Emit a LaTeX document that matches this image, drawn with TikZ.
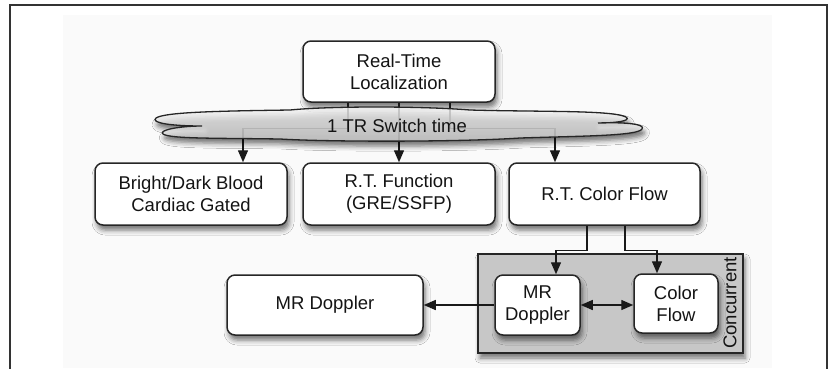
\documentclass[tikz,border=0pt]{standalone}
\usepackage{fontspec}
\setmainfont{Liberation Sans}
\usetikzlibrary{arrows.meta,shadows.blur}

\begin{document}
\begin{tikzpicture}[x=1pt,y=-1pt,
  txt/.style={font=\fontsize{18.5}{22}\selectfont, text=black!92, align=center},
  softshadow/.style={blur shadow={shadow xshift=2pt, shadow yshift=-5pt,
      shadow blur radius=5pt, shadow opacity=55}},
  box/.style={txt, draw=black!85, line width=1.5pt, fill=white,
      rounded corners=8pt, inner sep=0pt, softshadow},
  group/.style={draw=black!85, line width=1.5pt, fill=black!22, inner sep=0pt,
      softshadow},
  tip/.style={Triangle[length=12pt,width=10pt]},
  conn/.style={draw=black!90, line width=1.4pt, -{Triangle[length=12pt,width=10pt]}},
  both/.style={draw=black!90, line width=1.4pt,
      {Triangle[length=12pt,width=10pt]}-{Triangle[length=12pt,width=10pt]}},
]
\useasboundingbox (0,0) rectangle (834,368);

% page frame and faint panel
\fill[black!2] (63,15) rectangle (772,368);
\draw[line width=2pt, black!80] (10,370) -- (10,5) -- (827,5) -- (827,370);

% nodes
\node[box, minimum width=192pt, minimum height=61pt] (rtl) at (399,71.5)
  {Real-Time\\Localization};
\node[box, minimum width=192pt, minimum height=62pt] (bd) at (191,194)
  {Bright/Dark Blood\\Cardiac Gated};
\node[box, minimum width=192pt, minimum height=62pt] (rtf) at (399,194)
  {R.T. Function\\(GRE/SSFP)};
\node[box, minimum width=191pt, minimum height=62pt] (rtcf) at (604.5,194)
  {R.T. Color Flow};

\node[group, minimum width=265pt, minimum height=99pt] (conc) at (610.5,303.5) {};
\node[txt, rotate=90] (conclabel) at (730,303) {Concurrent};

\node[box, minimum width=85pt, minimum height=60pt] (mri) at (537.5,305)
  {MR\\Doppler};
\node[box, minimum width=84pt, minimum height=59pt] (cf) at (676,303.5)
  {Color\\Flow};
\node[box, minimum width=196pt, minimum height=60pt] (mrd) at (325,305)
  {MR Doppler};

% connectors from the localizer, passing under the switch-time cloud
\draw[conn] ([xshift=-51pt]rtl.south) -- ++(0,26) -| ([xshift=52pt]bd.north);
\draw[conn] (rtl.south) -- (rtf.north);
\draw[conn] ([xshift=51pt]rtl.south) -- ++(0,26) -| ([xshift=-49.5pt]rtcf.north);

% switch-time cloud
\path[draw=black!85, line width=1.3pt, top color=gray!6, bottom color=gray!38,
      fill opacity=0.8, softshadow]
  (202,126) .. controls (172,126) and (150,123) .. (156,118)
  .. controls (165,112) and (220,111) .. (290,110)
  .. controls (330,106) and (420,106) .. (470,110)
  .. controls (540,112) and (612,110) .. (626,117)
  .. controls (632,121) and (615,123) .. (598,123)
  .. controls (625,122) and (646,124) .. (642,129)
  .. controls (638,136) and (580,136) .. (520,138)
  .. controls (460,142) and (330,142) .. (280,139)
  .. controls (220,138) and (170,139) .. (163,134)
  .. controls (158,130) and (180,126) .. (202,126) -- cycle;
\node[txt] (sw) at (397,126) {1 TR Switch time};

% color flow branches into the concurrent pair
\draw[conn] ([xshift=-17.5pt]rtcf.south) -- ++(0,25) -| ([xshift=18.5pt]mri.north);
\draw[conn] ([xshift=20.5pt]rtcf.south) -- ++(0,25) -| ([xshift=-19pt]cf.north);
\draw[conn] (mri.west) -- (mrd.east);
\draw[both] (mri.east) -- (mri.east -| cf.west);
\end{tikzpicture}
\end{document}
